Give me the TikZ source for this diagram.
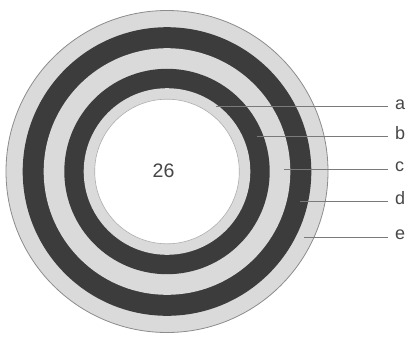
\documentclass[tikz,border=0pt]{standalone}
\usepackage{fontspec}
\setmainfont{Liberation Sans}
\usetikzlibrary{positioning}
\definecolor{cclaro}{HTML}{DADADA}
\definecolor{coscuro}{HTML}{3C3C3C}
\definecolor{cborde}{HTML}{8C8C8C}
\definecolor{cguia}{HTML}{7A7A7A}
\definecolor{ctexto}{HTML}{474747}
\tikzset{
  anillo/.style={fill=cclaro,draw=cborde,line width=0.8pt},
  anilloo/.style={fill=coscuro},
  anilloc/.style={fill=cclaro},
  hueco/.style={fill=white,draw=cclaro!80!black,line width=0.6pt},
  guia/.style={draw=cguia,line width=0.9pt},
  etq/.style={font=\fontsize{18}{18}\selectfont,text=ctexto,inner ysep=0pt,
              inner xsep=7pt,text height=1ex,text depth=0pt,anchor=west},
  num/.style={font=\fontsize{19.5}{19.5}\selectfont,text=ctexto,inner sep=0pt},
}

\begin{document}
\begin{tikzpicture}[x=1pt,y=-1pt]
\useasboundingbox (0,0) rectangle (411,338);

% ---------------- anillos ----------------
\coordinate (o) at (167,171.5);
\filldraw[anillo]  (o) circle (161pt);
\fill[anilloo]     (o) circle (144.3pt);
\fill[anilloc]     (o) circle (123.3pt);
\fill[anilloo]     (o) circle (102.7pt);
\fill[anilloc]     (o) circle (83.3pt);
\filldraw[hueco]   (o) circle (72.3pt);
\node[num] (n) at (163.5,170.5) {26};

% ---------------- guias ----------------
\coordinate (pa) at (216,106.7);
\coordinate (pb) at (256.5,136.7);
\coordinate (pc) at (283.5,169.3);
\coordinate (pd) at (300,201.7);
\coordinate (pe) at (304,237.3);

\node[etq] (a) at (388,106.7) {a};
\node[etq] (b) at (388,136.7) {b};
\node[etq] (c) at (388,169.3) {c};
\node[etq] (d) at (388,201.7) {d};
\node[etq] (e) at (388,237.3) {e};

\draw[guia] (pa) -- (a);
\draw[guia] (pb) -- (b);
\draw[guia] (pc) -- (c);
\draw[guia] (pd) -- (d);
\draw[guia] (pe) -- (e);

\end{tikzpicture}
\end{document}
